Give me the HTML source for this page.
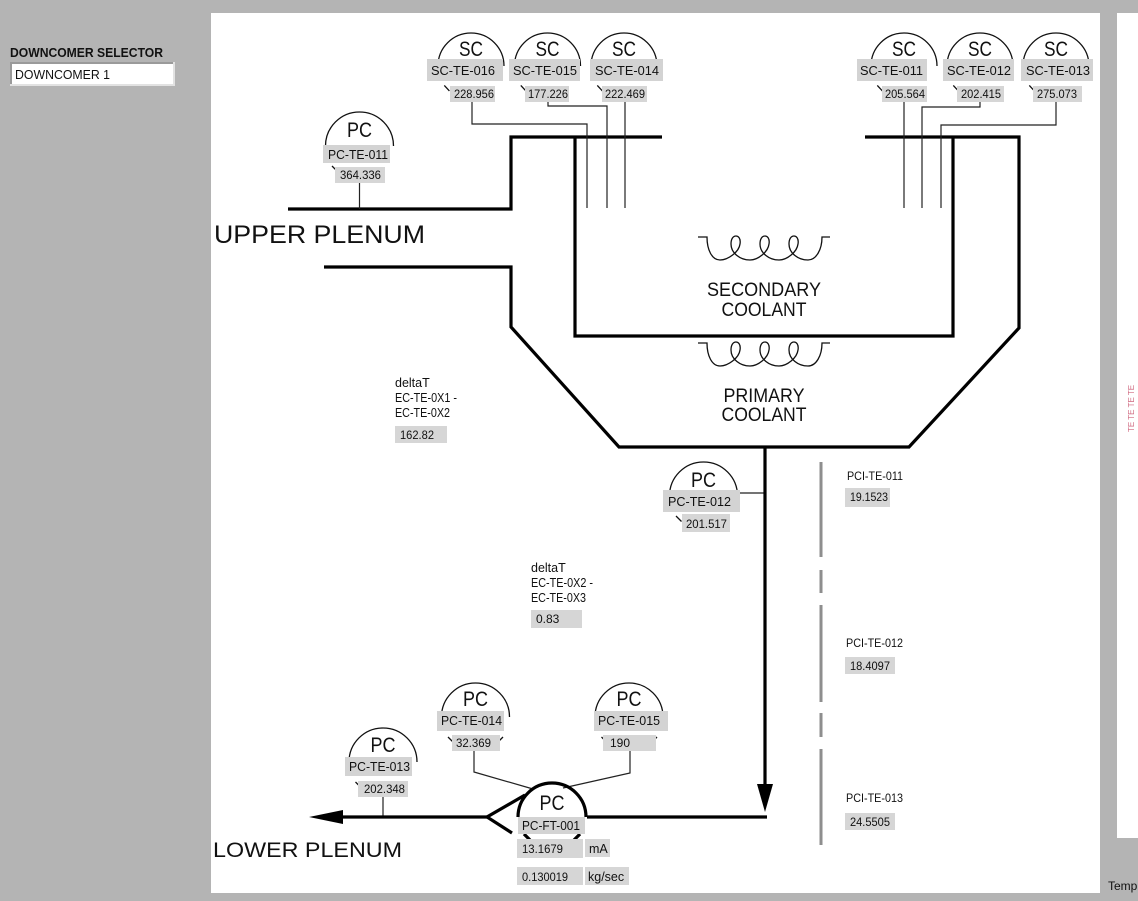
<!DOCTYPE html>
<html><head><meta charset="utf-8"><style>
html,body{margin:0;padding:0;width:1138px;height:901px;overflow:hidden;background:#b4b4b4}
svg{display:block}
text{font-family:"Liberation Sans",Arial,sans-serif;fill:#111}
.lb{fill:#d3d3d3}
.vb{fill:#d6d6d6}
.arc{fill:none;stroke:#111;stroke-width:1.3}
.thin{fill:none;stroke:#222;stroke-width:1.2}
.thick{fill:none;stroke:#000;stroke-width:3.2;stroke-linejoin:miter}
.big{font-size:21px}
.lt{font-size:12.5px}
.vt{font-size:12px}
</style></head><body>
<svg width="1138" height="901" viewBox="0 0 1138 901" xmlns="http://www.w3.org/2000/svg">
<rect width="1138" height="901" fill="#b4b4b4"/>
<rect x="211" y="13" width="889" height="880" fill="#fff"/>
<rect x="1117" y="13" width="21" height="825" fill="#fff"/>
<text x="1134" y="432" transform="rotate(-90 1134 432)" style="font-size:8px;fill:#d06a80">TE TE TE TE</text>
<text x="1108" y="890" style="font-size:12px">Temp</text>

<!-- selector -->
<text x="10" y="57" textLength="153" lengthAdjust="spacingAndGlyphs" style="font-size:13px;font-weight:bold">DOWNCOMER SELECTOR</text>
<rect x="10" y="62" width="165" height="24" fill="#e2e2e2"/>
<rect x="10" y="62" width="163" height="22" fill="#9a9a9a"/>
<rect x="12" y="64" width="161" height="20" fill="#fff"/>
<text x="15" y="79" textLength="95" lengthAdjust="spacingAndGlyphs" style="font-size:13px">DOWNCOMER 1</text>

<!-- vessel -->
<path class="thick" d="M288,209 H511 V137 H662"/>
<path class="thick" d="M575,137 V336 H953 V137"/>
<path class="thick" d="M865,137 H1019 V328 L909,447 H619 L511,327 V267 H324"/>

<!-- sensor lead lines -->
<path class="thin" d="M472,102 V124 H587 V208"/>
<path class="thin" d="M548,102 V106 H607 V208"/>
<path class="thin" d="M625,102 V208"/>
<path class="thin" d="M904,102 V208"/>
<path class="thin" d="M980,102 V107 H922 V208"/>
<path class="thin" d="M1056,102 V125 H941 V208"/>
<path class="thin" d="M359.5,183 V209"/>
<path class="thin" d="M740,493 H765"/>
<path class="thin" d="M383,797 V817"/>
<path class="thin" d="M474,751 V772 L533,789"/>
<path class="thin" d="M630,751 V773 L563,788"/>

<!-- coils -->
<path class="arc" stroke-width="1.8" d="M698,237 H707 C707,250 712,260 720,260 C728,260 739,252 740,244 C741,238 738,236 736,236 C733,236 731,239 731,244 C731,253 740,260 750,260 C758,260 768,252 769,244 C770,238 767,236 765,236 C762,236 760,239 760,244 C760,253 769,260 779,260 C787,260 797,252 798,244 C799,238 796,236 794,236 C791,236 789,239 789,244 C789,253 798,260 808,260 C816,260 822,250 822,237 H830"/>
<g transform="translate(0,106)">
<path class="arc" stroke-width="1.8" d="M698,237 H707 C707,250 712,260 720,260 C728,260 739,252 740,244 C741,238 738,236 736,236 C733,236 731,239 731,244 C731,253 740,260 750,260 C758,260 768,252 769,244 C770,238 767,236 765,236 C762,236 760,239 760,244 C760,253 769,260 779,260 C787,260 797,252 798,244 C799,238 796,236 794,236 C791,236 789,239 789,244 C789,253 798,260 808,260 C816,260 822,250 822,237 H830"/>
</g>
<text x="764" y="296" text-anchor="middle" textLength="114" lengthAdjust="spacingAndGlyphs" style="font-size:19px">SECONDARY</text>
<text x="764" y="316" text-anchor="middle" textLength="85" lengthAdjust="spacingAndGlyphs" style="font-size:19px">COOLANT</text>
<text x="764" y="402" text-anchor="middle" textLength="81" lengthAdjust="spacingAndGlyphs" style="font-size:19px">PRIMARY</text>
<text x="764" y="421" text-anchor="middle" textLength="85" lengthAdjust="spacingAndGlyphs" style="font-size:19px">COOLANT</text>

<!-- plenum texts -->
<text x="214" y="243" textLength="211" lengthAdjust="spacingAndGlyphs" style="font-size:25px">UPPER  PLENUM</text>
<text x="213" y="857" textLength="189" lengthAdjust="spacingAndGlyphs" style="font-size:21px">LOWER  PLENUM</text>

<!-- main flow lines -->
<path class="thick" d="M765,447 V786"/>
<polygon points="757,784 773,784 765,812" fill="#000"/>
<path class="thick" d="M587,817 H767"/>
<path class="thick" d="M340,817 H487"/>
<polygon points="309,817 343,810 343,824" fill="#000"/>
<path class="thick" d="M525,795 L487,817 L512,833"/>
<path class="thick" d="M518,817 A34,34 0 0 1 586,817"/>
<path class="thick" stroke-width="2.6" d="M524,834 L530,840 M580,834 L574,840"/>

<!-- dashed gray line -->
<path d="M821,462 V557 M821,570 V593 M821,605 V702 M821,713 V737 M821,749 V845" stroke="#8e8e8e" stroke-width="3" fill="none"/>

<!-- instrument arcs -->
<g class="arc">
<path d="M438,66 A33,33 0 0 1 504,66 M444.3,85.4 L449.4,90.9"/>
<path d="M514.5,66 A33,33 0 0 1 580.5,66 M520.8,85.4 L525.9,90.9"/>
<path d="M591,66 A33,33 0 0 1 657,66 M597.3,85.4 L602.4,90.9"/>
<path d="M871,66 A33,33 0 0 1 937,66 M877.3,85.4 L882.4,90.9"/>
<path d="M947,66 A33,33 0 0 1 1013,66 M953.3,85.4 L958.4,90.9"/>
<path d="M1023,66 A33,33 0 0 1 1089,66 M1029.3,85.4 L1034.4,90.9"/>
<path d="M325.5,146 A34,34 0 0 1 393.5,146 M332,166 L337.5,171.5"/>
<path d="M669.5,496 A34,34 0 0 1 737.5,496 M676,516 L681.5,521.5"/>
<path d="M349,762 A34,34 0 0 1 417,762 M355.5,782 L361,787.5"/>
<path d="M441.5,717 A34,34 0 0 1 509.5,717 M448,737 L453.5,742.5 M503,737 L499,741"/>
<path d="M595,717 A34,34 0 0 1 663,717 M601.5,737 L607,742.5 M657,737 L653,741"/>
</g>

<!-- SC label boxes -->
<rect class="lb" x="427" y="59" width="76" height="22"/>
<rect class="lb" x="509" y="59" width="71" height="22"/>
<rect class="lb" x="590" y="59" width="73" height="22"/>
<rect class="lb" x="857" y="59" width="70" height="22"/>
<rect class="lb" x="943" y="59" width="71" height="22"/>
<rect class="lb" x="1021" y="59" width="72" height="22"/>
<rect class="vb" x="450" y="86" width="45" height="16"/>
<rect class="vb" x="525" y="86" width="44" height="16"/>
<rect class="vb" x="602" y="86" width="45" height="16"/>
<rect class="vb" x="882" y="86" width="45" height="16"/>
<rect class="vb" x="957" y="86" width="47" height="16"/>
<rect class="vb" x="1033" y="86" width="49" height="16"/>

<g class="big" text-anchor="middle">
<text x="471" y="56" textLength="24" lengthAdjust="spacingAndGlyphs">SC</text>
<text x="547.5" y="56" textLength="24" lengthAdjust="spacingAndGlyphs">SC</text>
<text x="624" y="56" textLength="24" lengthAdjust="spacingAndGlyphs">SC</text>
<text x="904" y="56" textLength="24" lengthAdjust="spacingAndGlyphs">SC</text>
<text x="980" y="56" textLength="24" lengthAdjust="spacingAndGlyphs">SC</text>
<text x="1056" y="56" textLength="24" lengthAdjust="spacingAndGlyphs">SC</text>
<text x="359.5" y="137" textLength="25" lengthAdjust="spacingAndGlyphs">PC</text>
<text x="703.5" y="487" textLength="25" lengthAdjust="spacingAndGlyphs">PC</text>
<text x="383" y="752" textLength="25" lengthAdjust="spacingAndGlyphs">PC</text>
<text x="475.5" y="706" textLength="25" lengthAdjust="spacingAndGlyphs">PC</text>
<text x="629" y="706" textLength="25" lengthAdjust="spacingAndGlyphs">PC</text>
<text x="552" y="810" textLength="25" lengthAdjust="spacingAndGlyphs">PC</text>
</g>

<g class="lt">
<text x="431" y="75" textLength="64" lengthAdjust="spacingAndGlyphs">SC-TE-016</text>
<text x="513" y="75" textLength="64" lengthAdjust="spacingAndGlyphs">SC-TE-015</text>
<text x="595" y="75" textLength="64" lengthAdjust="spacingAndGlyphs">SC-TE-014</text>
<text x="860" y="75" textLength="63" lengthAdjust="spacingAndGlyphs">SC-TE-011</text>
<text x="947" y="75" textLength="64" lengthAdjust="spacingAndGlyphs">SC-TE-012</text>
<text x="1026" y="75" textLength="64" lengthAdjust="spacingAndGlyphs">SC-TE-013</text>
</g>
<g class="vt">
<text x="454" y="98" textLength="40" lengthAdjust="spacingAndGlyphs">228.956</text>
<text x="528" y="98" textLength="40" lengthAdjust="spacingAndGlyphs">177.226</text>
<text x="605" y="98" textLength="40" lengthAdjust="spacingAndGlyphs">222.469</text>
<text x="885" y="98" textLength="40" lengthAdjust="spacingAndGlyphs">205.564</text>
<text x="961" y="98" textLength="40" lengthAdjust="spacingAndGlyphs">202.415</text>
<text x="1037" y="98" textLength="40" lengthAdjust="spacingAndGlyphs">275.073</text>
</g>

<!-- PC label boxes -->
<rect class="lb" x="323" y="145" width="67" height="18"/>
<rect class="vb" x="335" y="167" width="50" height="16"/>
<text class="lt" x="328" y="159" textLength="60" lengthAdjust="spacingAndGlyphs">PC-TE-011</text>
<text class="vt" x="340" y="179" textLength="41" lengthAdjust="spacingAndGlyphs">364.336</text>

<rect class="lb" x="663" y="490" width="77" height="22"/>
<rect class="vb" x="682" y="514" width="48" height="18"/>
<text class="lt" x="668" y="506" textLength="63" lengthAdjust="spacingAndGlyphs">PC-TE-012</text>
<text class="vt" x="686" y="528" textLength="41" lengthAdjust="spacingAndGlyphs">201.517</text>

<rect class="lb" x="345" y="757" width="67" height="19"/>
<rect class="vb" x="358" y="781" width="50" height="16"/>
<text class="lt" x="349" y="771" textLength="61" lengthAdjust="spacingAndGlyphs">PC-TE-013</text>
<text class="vt" x="364" y="793" textLength="41" lengthAdjust="spacingAndGlyphs">202.348</text>

<rect class="lb" x="437" y="711" width="67" height="20"/>
<rect class="vb" x="452" y="735" width="48" height="16"/>
<text class="lt" x="441" y="725" textLength="61" lengthAdjust="spacingAndGlyphs">PC-TE-014</text>
<text class="vt" x="456" y="747" textLength="35" lengthAdjust="spacingAndGlyphs">32.369</text>

<rect class="lb" x="594" y="711" width="74" height="20"/>
<rect class="vb" x="603" y="735" width="53" height="16"/>
<text class="lt" x="598" y="725" textLength="62" lengthAdjust="spacingAndGlyphs">PC-TE-015</text>
<text class="vt" x="610" y="747">190</text>

<rect class="lb" x="518" y="817" width="67" height="17"/>
<text class="lt" x="522" y="830" textLength="58" lengthAdjust="spacingAndGlyphs">PC-FT-001</text>
<rect class="vb" x="517" y="839" width="66" height="19"/>
<rect class="vb" x="585" y="839" width="25" height="18"/>
<rect class="vb" x="517" y="867" width="66" height="18"/>
<rect class="vb" x="585" y="867" width="44" height="18"/>
<text class="vt" x="522" y="853" textLength="41" lengthAdjust="spacingAndGlyphs">13.1679</text>
<text class="lt" x="589" y="853">mA</text>
<text class="vt" x="522" y="881" textLength="46" lengthAdjust="spacingAndGlyphs">0.130019</text>
<text class="lt" x="588" y="881">kg/sec</text>

<!-- deltaT -->
<g style="font-size:12.5px">
<text x="395" y="387">deltaT</text>
<text x="395" y="402" textLength="62" lengthAdjust="spacingAndGlyphs">EC-TE-0X1 -</text>
<text x="395" y="417" textLength="55" lengthAdjust="spacingAndGlyphs">EC-TE-0X2</text>
<text x="531" y="572">deltaT</text>
<text x="531" y="587" textLength="62" lengthAdjust="spacingAndGlyphs">EC-TE-0X2 -</text>
<text x="531" y="602" textLength="55" lengthAdjust="spacingAndGlyphs">EC-TE-0X3</text>
</g>
<rect class="vb" x="395" y="426" width="52" height="17"/>
<text class="vt" x="400" y="439" textLength="34" lengthAdjust="spacingAndGlyphs">162.82</text>
<rect class="vb" x="531" y="610" width="51" height="18"/>
<text class="vt" x="536" y="623">0.83</text>

<!-- PCI -->
<g style="font-size:12px">
<text x="847" y="480" textLength="56" lengthAdjust="spacingAndGlyphs">PCI-TE-011</text>
<text x="846" y="647" textLength="57" lengthAdjust="spacingAndGlyphs">PCI-TE-012</text>
<text x="846" y="802" textLength="57" lengthAdjust="spacingAndGlyphs">PCI-TE-013</text>
</g>
<rect class="vb" x="845" y="488" width="45" height="19"/>
<rect class="vb" x="845" y="657" width="50" height="17"/>
<rect class="vb" x="845" y="813" width="50" height="17"/>
<text class="vt" x="850" y="501" textLength="38" lengthAdjust="spacingAndGlyphs">19.1523</text>
<text class="vt" x="850" y="670" textLength="40" lengthAdjust="spacingAndGlyphs">18.4097</text>
<text class="vt" x="850" y="826" textLength="40" lengthAdjust="spacingAndGlyphs">24.5505</text>
</svg>
</body></html>
